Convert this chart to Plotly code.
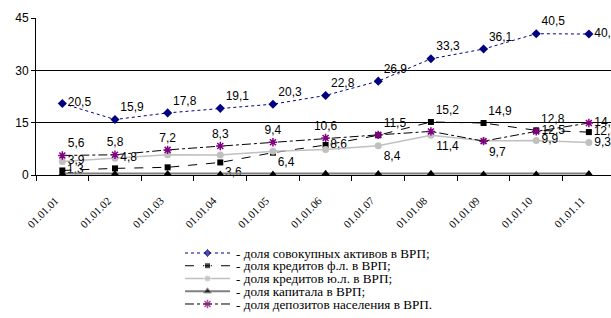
import plotly.graph_objects as go

categories = ["01.01.01", "01.01.02", "01.01.03", "01.01.04", "01.01.05", "01.01.06",
              "01.01.07", "01.01.08", "01.01.09", "01.01.10", "01.01.11"]

assets = [20.5, 15.9, 17.8, 19.1, 20.3, 22.8, 26.9, 33.3, 36.1, 40.5, 40.4]
credits_fl = [1.3, 1.9, 2.2, 3.6, 6.4, 8.6, 11.4, 15.2, 14.9, 12.8, 12.3]
credits_ul = [3.9, 4.8, 5.8, 5.7, 6.8, 7.3, 8.4, 11.4, 9.8, 9.9, 9.3]
capital = [0.4, 0.4, 0.4, 0.3, 0.3, 0.5, 0.4, 0.5, 0.3, 0.3, 0.4]
deposits = [5.6, 5.8, 7.2, 8.3, 9.4, 10.6, 11.5, 12.5, 9.7, 12.5, 14.9]

# which points carry a value label
assets_lab = [1] * 11
credits_fl_lab = [1, 0, 0, 1, 1, 1, 0, 1, 1, 1, 1]
credits_ul_lab = [1, 1, 0, 0, 0, 0, 1, 1, 0, 1, 1]
capital_lab = [0] * 11
deposits_lab = [1, 1, 1, 1, 1, 1, 1, 0, 1, 1, 1]

assets_pos = ["middle right"] + ["top right"] * 9 + ["middle right"]
credits_fl_pos = ["middle right", "top right", "top right", "bottom right", "bottom right",
                  "middle right", "top right", "top right", "top right", "top right", "middle right"]
credits_ul_pos = ["middle right", "middle right", "top right", "top right", "top right", "top right",
                  "bottom right", "bottom right", "top right", "middle right", "middle right"]
capital_pos = ["top right"] * 11
deposits_pos = ["top right", "top center", "top center", "top center", "top center", "top center",
                "top right", "top right", "bottom right", "middle right", "middle right"]

legend_names = [
    "- доля совокупных активов в ВРП;",
    "- доля кредитов ф.л. в ВРП;",
    "- доля кредитов ю.л. в ВРП;",
    "- доля капитала в ВРП;",
    "- доля депозитов населения в ВРП.",
]


def labels(vals, flags):
    return [("%.1f" % v).replace(".", ",") if f else "" for v, f in zip(vals, flags)]


series = [
    dict(y=assets, lab=assets_lab, pos=assets_pos,
         line=dict(color="#000080", width=1, dash="dot"),
         marker=dict(symbol="diamond", size=7, color="#000080")),
    dict(y=credits_fl, lab=credits_fl_lab, pos=credits_fl_pos,
         line=dict(color="black", width=1, dash="dash"),
         marker=dict(symbol="square", size=6, color="black")),
    dict(y=credits_ul, lab=credits_ul_lab, pos=credits_ul_pos,
         line=dict(color="#c0c0c0", width=1.5),
         marker=dict(symbol="circle", size=7, color="#c0c0c0")),
    dict(y=capital, lab=capital_lab, pos=capital_pos,
         line=dict(color="#808080", width=2),
         marker=dict(symbol="triangle-up", size=7, color="black")),
    dict(y=deposits, lab=deposits_lab, pos=deposits_pos,
         line=dict(color="black", width=1, dash="dashdot"),
         marker=dict(symbol="asterisk-open", size=7, color="#800080",
                     line=dict(color="#800080", width=1.5))),
]

fig = go.Figure()
for s in series:
    fig.add_trace(go.Scatter(
        x=categories, y=s["y"], mode="lines+markers+text",
        text=labels(s["y"], s["lab"]), textposition=s["pos"],
        textfont=dict(family="Liberation Sans, Arial", size=12, color="black"),
        line=s["line"], marker=s["marker"], showlegend=False, cliponaxis=False,
    ))

# custom compact legend (swatches on helper axis; one swatch = 1 unit = 45 px)
for i, s in enumerate(series):
    m = dict(s["marker"])
    m["size"] = [0, m["size"], 0]
    fig.add_trace(go.Scatter(
        x=[0, 0.5, 1], y=[-i, -i, -i], xaxis="x2", yaxis="y2",
        mode="lines+markers", line=s["line"], marker=m,
        showlegend=False, hoverinfo="skip",
    ))
    fig.add_annotation(
        x=1.08, y=-i, xref="x2", yref="y2", text=legend_names[i],
        showarrow=False, xanchor="left", yanchor="middle",
        font=dict(family="Liberation Serif, Times New Roman", size=13.2, color="black"),
    )

fig.update_layout(
    width=611, height=318,
    margin=dict(l=36, r=0, t=0, b=0, autoexpand=False),
    paper_bgcolor="white", plot_bgcolor="white",
    xaxis=dict(
        type="category", range=[-0.5, 10.42], domain=[0, 1],
        showline=True, linecolor="black", linewidth=1,
        ticks="outside", ticklen=5, tickcolor="black", tickson="boundaries",
        tickangle=-45, showgrid=False, ticklabelstandoff=14, ticklabelshift=-7,
        tickfont=dict(family="Liberation Serif, Times New Roman", size=11, color="black"),
    ),
    yaxis=dict(
        range=[0, 45], domain=[(318 - 175) / 318, (318 - 18) / 318],
        tickvals=[0, 15, 30, 45], showline=True, linecolor="black", linewidth=1,
        ticks="outside", ticklen=4, tickcolor="black",
        showgrid=True, gridcolor="black", gridwidth=1, zeroline=False,
        tickfont=dict(family="Liberation Sans, Arial", size=12, color="black"),
    ),
    xaxis2=dict(domain=[(185 - 36) / 575, (185 + 270 - 36) / 575], range=[0, 6],
                visible=False, anchor="y2"),
    yaxis2=dict(domain=[0.02, 0.22], range=[-4.599, 0.389], visible=False, anchor="x2"),
)

fig.write_html("out.html", post_script="document.body.style.margin='0';",
               config={"displayModeBar": False})
